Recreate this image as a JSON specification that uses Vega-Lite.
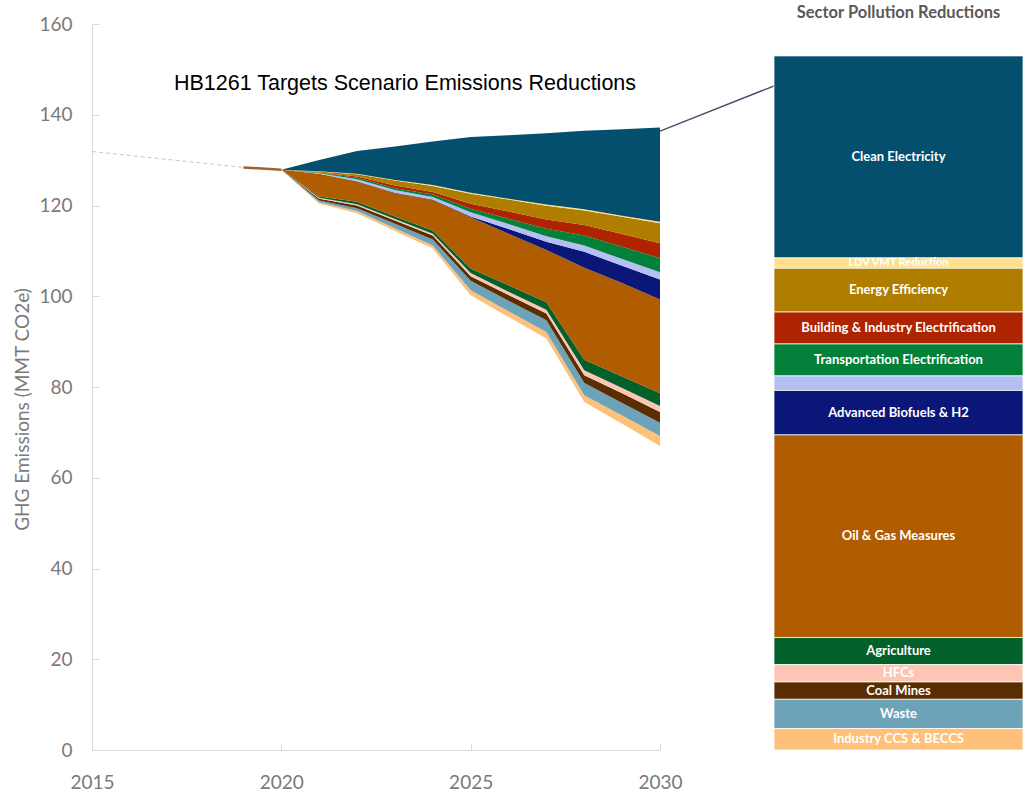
{
  "$schema": "https://vega.github.io/schema/vega-lite/v6.json",
  "background": "white",
  "padding": {"left": 13, "top": 4, "right": 5, "bottom": 5},
  "config": {"view": {"stroke": null}, "font": "Lato"},
  "spacing": 114,
  "bounds": "flush",
  "datasets": {
    "sectors": [
      {"sector": "Clean Electricity", "rank": 13, "share": 29.1},
      {"sector": "LDV VMT Reduction", "rank": 12, "share": 1.5},
      {"sector": "Energy Efficiency", "rank": 11, "share": 6.3},
      {"sector": "Building & Industry Electrification", "rank": 10, "share": 4.6},
      {"sector": "Transportation Electrification", "rank": 9, "share": 4.6},
      {"sector": "Other Measures", "rank": 8, "share": 2.1},
      {"sector": "Advanced Biofuels & H2", "rank": 7, "share": 6.4},
      {"sector": "Oil & Gas Measures", "rank": 6, "share": 29.2},
      {"sector": "Agriculture", "rank": 5, "share": 3.9},
      {"sector": "HFCs", "rank": 4, "share": 2.5},
      {"sector": "Coal Mines", "rank": 3, "share": 2.5},
      {"sector": "Waste", "rank": 2, "share": 4.2},
      {"sector": "Industry CCS & BECCS", "rank": 1, "share": 3.1}
    ],
    "trend": [
      {"year": 2015, "value": 131.9},
      {"year": 2019, "value": 128.4}
    ],
    "bridge": [
      {"year": 2019, "value": 128.4},
      {"year": 2020, "value": 127.9}
    ],
    "connector": [
      {"year": 2030, "value": 136.4, "year_end": 2033.45, "value_end": 147.8}
    ],
    "emissions": [
      {"year": 2020, "sector": "Remaining Emissions", "value": 127.9},
      {"year": 2020, "sector": "Industry CCS & BECCS", "value": 0},
      {"year": 2020, "sector": "Waste", "value": 0},
      {"year": 2020, "sector": "Coal Mines", "value": 0},
      {"year": 2020, "sector": "HFCs", "value": 0},
      {"year": 2020, "sector": "Agriculture", "value": 0},
      {"year": 2020, "sector": "Oil & Gas Measures", "value": 0},
      {"year": 2020, "sector": "Advanced Biofuels & H2", "value": 0},
      {"year": 2020, "sector": "Other Measures", "value": 0},
      {"year": 2020, "sector": "Transportation Electrification", "value": 0},
      {"year": 2020, "sector": "Building & Industry Electrification", "value": 0},
      {"year": 2020, "sector": "Energy Efficiency", "value": 0},
      {"year": 2020, "sector": "LDV VMT Reduction", "value": 0},
      {"year": 2020, "sector": "Clean Electricity", "value": 0},

      {"year": 2021, "sector": "Remaining Emissions", "value": 120.4},
      {"year": 2021, "sector": "Industry CCS & BECCS", "value": 0.3},
      {"year": 2021, "sector": "Waste", "value": 0.4},
      {"year": 2021, "sector": "Coal Mines", "value": 0.4},
      {"year": 2021, "sector": "HFCs", "value": 0.2},
      {"year": 2021, "sector": "Agriculture", "value": 0.3},
      {"year": 2021, "sector": "Oil & Gas Measures", "value": 5.0},
      {"year": 2021, "sector": "Advanced Biofuels & H2", "value": 0},
      {"year": 2021, "sector": "Other Measures", "value": 0.1},
      {"year": 2021, "sector": "Transportation Electrification", "value": 0.1},
      {"year": 2021, "sector": "Building & Industry Electrification", "value": 0.1},
      {"year": 2021, "sector": "Energy Efficiency", "value": 0.2},
      {"year": 2021, "sector": "LDV VMT Reduction", "value": 0.05},
      {"year": 2021, "sector": "Clean Electricity", "value": 2.5},

      {"year": 2022, "sector": "Remaining Emissions", "value": 118.3},
      {"year": 2022, "sector": "Industry CCS & BECCS", "value": 0.5},
      {"year": 2022, "sector": "Waste", "value": 0.6},
      {"year": 2022, "sector": "Coal Mines", "value": 0.6},
      {"year": 2022, "sector": "HFCs", "value": 0.3},
      {"year": 2022, "sector": "Agriculture", "value": 0.5},
      {"year": 2022, "sector": "Oil & Gas Measures", "value": 4.5},
      {"year": 2022, "sector": "Advanced Biofuels & H2", "value": 0.05},
      {"year": 2022, "sector": "Other Measures", "value": 0.45},
      {"year": 2022, "sector": "Transportation Electrification", "value": 0.3},
      {"year": 2022, "sector": "Building & Industry Electrification", "value": 0.3},
      {"year": 2022, "sector": "Energy Efficiency", "value": 0.5},
      {"year": 2022, "sector": "LDV VMT Reduction", "value": 0.1},
      {"year": 2022, "sector": "Clean Electricity", "value": 5.0},

      {"year": 2023, "sector": "Remaining Emissions", "value": 114.4},
      {"year": 2023, "sector": "Industry CCS & BECCS", "value": 0.6},
      {"year": 2023, "sector": "Waste", "value": 1.0},
      {"year": 2023, "sector": "Coal Mines", "value": 0.7},
      {"year": 2023, "sector": "HFCs", "value": 0.3},
      {"year": 2023, "sector": "Agriculture", "value": 0.6},
      {"year": 2023, "sector": "Oil & Gas Measures", "value": 5.1},
      {"year": 2023, "sector": "Advanced Biofuels & H2", "value": 0.1},
      {"year": 2023, "sector": "Other Measures", "value": 0.6},
      {"year": 2023, "sector": "Transportation Electrification", "value": 0.4},
      {"year": 2023, "sector": "Building & Industry Electrification", "value": 0.6},
      {"year": 2023, "sector": "Energy Efficiency", "value": 1.1},
      {"year": 2023, "sector": "LDV VMT Reduction", "value": 0.1},
      {"year": 2023, "sector": "Clean Electricity", "value": 7.4},

      {"year": 2024, "sector": "Remaining Emissions", "value": 110.5},
      {"year": 2024, "sector": "Industry CCS & BECCS", "value": 0.7},
      {"year": 2024, "sector": "Waste", "value": 1.3},
      {"year": 2024, "sector": "Coal Mines", "value": 0.9},
      {"year": 2024, "sector": "HFCs", "value": 0.4},
      {"year": 2024, "sector": "Agriculture", "value": 0.7},
      {"year": 2024, "sector": "Oil & Gas Measures", "value": 6.7},
      {"year": 2024, "sector": "Advanced Biofuels & H2", "value": 0.1},
      {"year": 2024, "sector": "Other Measures", "value": 0.6},
      {"year": 2024, "sector": "Transportation Electrification", "value": 0.5},
      {"year": 2024, "sector": "Building & Industry Electrification", "value": 0.6},
      {"year": 2024, "sector": "Energy Efficiency", "value": 1.3},
      {"year": 2024, "sector": "LDV VMT Reduction", "value": 0.2},
      {"year": 2024, "sector": "Clean Electricity", "value": 9.6},

      {"year": 2025, "sector": "Remaining Emissions", "value": 100.2},
      {"year": 2025, "sector": "Industry CCS & BECCS", "value": 1.1},
      {"year": 2025, "sector": "Waste", "value": 2.1},
      {"year": 2025, "sector": "Coal Mines", "value": 1.0},
      {"year": 2025, "sector": "HFCs", "value": 0.7},
      {"year": 2025, "sector": "Agriculture", "value": 1.0},
      {"year": 2025, "sector": "Oil & Gas Measures", "value": 11.3},
      {"year": 2025, "sector": "Advanced Biofuels & H2", "value": 0.2},
      {"year": 2025, "sector": "Other Measures", "value": 0.9},
      {"year": 2025, "sector": "Transportation Electrification", "value": 0.8},
      {"year": 2025, "sector": "Building & Industry Electrification", "value": 1.1},
      {"year": 2025, "sector": "Energy Efficiency", "value": 2.2},
      {"year": 2025, "sector": "LDV VMT Reduction", "value": 0.2},
      {"year": 2025, "sector": "Clean Electricity", "value": 12.3},

      {"year": 2026, "sector": "Remaining Emissions", "value": 95.4},
      {"year": 2026, "sector": "Industry CCS & BECCS", "value": 1.3},
      {"year": 2026, "sector": "Waste", "value": 2.3},
      {"year": 2026, "sector": "Coal Mines", "value": 1.3},
      {"year": 2026, "sector": "HFCs", "value": 0.7},
      {"year": 2026, "sector": "Agriculture", "value": 1.4},
      {"year": 2026, "sector": "Oil & Gas Measures", "value": 11.4},
      {"year": 2026, "sector": "Advanced Biofuels & H2", "value": 1.0},
      {"year": 2026, "sector": "Other Measures", "value": 1.1},
      {"year": 2026, "sector": "Transportation Electrification", "value": 1.2},
      {"year": 2026, "sector": "Building & Industry Electrification", "value": 1.6},
      {"year": 2026, "sector": "Energy Efficiency", "value": 2.6},
      {"year": 2026, "sector": "LDV VMT Reduction", "value": 0.2},
      {"year": 2026, "sector": "Clean Electricity", "value": 14.0},

      {"year": 2027, "sector": "Remaining Emissions", "value": 90.7},
      {"year": 2027, "sector": "Industry CCS & BECCS", "value": 1.4},
      {"year": 2027, "sector": "Waste", "value": 2.6},
      {"year": 2027, "sector": "Coal Mines", "value": 1.5},
      {"year": 2027, "sector": "HFCs", "value": 0.8},
      {"year": 2027, "sector": "Agriculture", "value": 1.7},
      {"year": 2027, "sector": "Oil & Gas Measures", "value": 11.5},
      {"year": 2027, "sector": "Advanced Biofuels & H2", "value": 1.8},
      {"year": 2027, "sector": "Other Measures", "value": 1.2},
      {"year": 2027, "sector": "Transportation Electrification", "value": 1.7},
      {"year": 2027, "sector": "Building & Industry Electrification", "value": 2.0},
      {"year": 2027, "sector": "Energy Efficiency", "value": 3.05},
      {"year": 2027, "sector": "LDV VMT Reduction", "value": 0.25},
      {"year": 2027, "sector": "Clean Electricity", "value": 15.7},

      {"year": 2028, "sector": "Remaining Emissions", "value": 76.7},
      {"year": 2028, "sector": "Industry CCS & BECCS", "value": 1.5},
      {"year": 2028, "sector": "Waste", "value": 2.7},
      {"year": 2028, "sector": "Coal Mines", "value": 1.7},
      {"year": 2028, "sector": "HFCs", "value": 1.1},
      {"year": 2028, "sector": "Agriculture", "value": 2.3},
      {"year": 2028, "sector": "Oil & Gas Measures", "value": 20.3},
      {"year": 2028, "sector": "Advanced Biofuels & H2", "value": 3.5},
      {"year": 2028, "sector": "Other Measures", "value": 1.4},
      {"year": 2028, "sector": "Transportation Electrification", "value": 2.2},
      {"year": 2028, "sector": "Building & Industry Electrification", "value": 2.3},
      {"year": 2028, "sector": "Energy Efficiency", "value": 3.2},
      {"year": 2028, "sector": "LDV VMT Reduction", "value": 0.25},
      {"year": 2028, "sector": "Clean Electricity", "value": 17.3},

      {"year": 2029, "sector": "Remaining Emissions", "value": 71.9},
      {"year": 2029, "sector": "Industry CCS & BECCS", "value": 1.8},
      {"year": 2029, "sector": "Waste", "value": 2.8},
      {"year": 2029, "sector": "Coal Mines", "value": 2.1},
      {"year": 2029, "sector": "HFCs", "value": 1.2},
      {"year": 2029, "sector": "Agriculture", "value": 2.5},
      {"year": 2029, "sector": "Oil & Gas Measures", "value": 20.6},
      {"year": 2029, "sector": "Advanced Biofuels & H2", "value": 3.8},
      {"year": 2029, "sector": "Other Measures", "value": 1.5},
      {"year": 2029, "sector": "Transportation Electrification", "value": 2.7},
      {"year": 2029, "sector": "Building & Industry Electrification", "value": 2.8},
      {"year": 2029, "sector": "Energy Efficiency", "value": 3.8},
      {"year": 2029, "sector": "LDV VMT Reduction", "value": 0.25},
      {"year": 2029, "sector": "Clean Electricity", "value": 19.05},

      {"year": 2030, "sector": "Remaining Emissions", "value": 67.0},
      {"year": 2030, "sector": "Industry CCS & BECCS", "value": 2.2},
      {"year": 2030, "sector": "Waste", "value": 2.9},
      {"year": 2030, "sector": "Coal Mines", "value": 2.4},
      {"year": 2030, "sector": "HFCs", "value": 1.3},
      {"year": 2030, "sector": "Agriculture", "value": 2.8},
      {"year": 2030, "sector": "Oil & Gas Measures", "value": 20.7},
      {"year": 2030, "sector": "Advanced Biofuels & H2", "value": 4.4},
      {"year": 2030, "sector": "Other Measures", "value": 1.6},
      {"year": 2030, "sector": "Transportation Electrification", "value": 3.1},
      {"year": 2030, "sector": "Building & Industry Electrification", "value": 3.3},
      {"year": 2030, "sector": "Energy Efficiency", "value": 4.4},
      {"year": 2030, "sector": "LDV VMT Reduction", "value": 0.3},
      {"year": 2030, "sector": "Clean Electricity", "value": 20.8}
    ]
  },
  "hconcat": [
    {
      "width": 568,
      "height": 726,
      "title": {"text": "HB1261 Targets Scenario Emissions Reductions", "font": "Liberation Sans", "fontSize": 21.5, "fontWeight": "normal", "color": "#000000", "anchor": "middle", "dx": 29, "offset": -79.5},
      "layer": [
        {
          "data": {"name": "emissions"},
          "transform": [
            {"lookup": "sector", "from": {"data": {"name": "sectors"}, "key": "sector", "fields": ["rank"]}, "default": 0}
          ],
          "mark": {"type": "area", "opacity": 1, "interpolate": "linear"},
          "encoding": {
            "x": {"field": "year", "type": "quantitative",
              "scale": {"domain": [2015, 2030], "nice": false, "zero": false},
              "axis": {"title": null, "values": [2015, 2020, 2025, 2030], "format": "d", "grid": false, "domainColor": "#d9d9d9", "tickColor": "#d9d9d9", "tickSize": -7, "labelPadding": 30, "labelFlush": false, "labelFont": "Lato", "labelFontSize": 19, "labelColor": "#7a7a7a"}},
            "y": {"field": "value", "type": "quantitative", "stack": "zero",
              "scale": {"domain": [0, 160], "nice": false},
              "axis": {"title": "GHG Emissions (MMT CO2e)", "values": [0, 20, 40, 60, 80, 100, 120, 140, 160], "grid": false, "domainColor": "#d9d9d9", "tickColor": "#d9d9d9", "tickSize": -7, "labelPadding": 27, "labelFlush": false, "labelFont": "Lato", "labelFontSize": 19, "labelColor": "#7a7a7a", "titleFont": "Lato", "titleFontSize": 19, "titleFontWeight": "normal", "titleColor": "#7a7a7a", "titlePadding": 6, "titleY": 385}},
            "color": {"field": "sector", "type": "nominal", "legend": null,
              "scale": {
                "domain": ["Remaining Emissions", "Industry CCS & BECCS", "Waste", "Coal Mines", "HFCs", "Agriculture", "Oil & Gas Measures", "Advanced Biofuels & H2", "Other Measures", "Transportation Electrification", "Building & Industry Electrification", "Energy Efficiency", "LDV VMT Reduction", "Clean Electricity"],
                "range": ["transparent", "#FFC07A", "#6DA3B8", "#5A2E02", "#FDC6B4", "#03602B", "#B05C00", "#0B1679", "#B4C0F3", "#03803A", "#AE2300", "#AF7E00", "#FFE08C", "#054F6E"]}},
            "order": {"field": "rank", "type": "quantitative"}
          }
        },
        {
          "data": {"name": "trend"},
          "mark": {"type": "line", "color": "#d9c3b3", "strokeWidth": 1, "strokeDash": [4, 3]},
          "encoding": {
            "x": {"field": "year", "type": "quantitative"},
            "y": {"field": "value", "type": "quantitative"}
          }
        },
        {
          "data": {"name": "bridge"},
          "mark": {"type": "line", "color": "#9a6538", "strokeWidth": 2.5},
          "encoding": {
            "x": {"field": "year", "type": "quantitative"},
            "y": {"field": "value", "type": "quantitative"}
          }
        },
        {
          "data": {"name": "connector"},
          "mark": {"type": "rule", "color": "#44546A", "strokeWidth": 1.5, "clip": false},
          "encoding": {
            "x": {"field": "year", "type": "quantitative"},
            "y": {"field": "value", "type": "quantitative"},
            "x2": {"field": "year_end"},
            "y2": {"field": "value_end"}
          }
        }
      ]
    },
    {
      "width": 249,
      "height": 726,
      "title": {"text": "Sector Pollution Reductions", "font": "Lato", "fontSize": 16.5, "fontWeight": "bold", "color": "#595959", "anchor": "middle", "offset": 3},
      "data": {"name": "sectors"},
      "encoding": {
        "x": {"datum": "Sector Pollution Reductions", "type": "nominal", "axis": null, "scale": {"paddingInner": 0, "paddingOuter": 0}},
        "order": {"field": "rank", "type": "quantitative"}
      },
      "layer": [
        {
          "mark": {"type": "bar", "stroke": "#ffffff", "strokeWidth": 0.75},
          "encoding": {
            "y": {"field": "share", "type": "quantitative", "stack": "zero", "axis": null, "scale": {"domain": [0, 104.6], "nice": false}},
            "color": {"field": "sector", "type": "nominal", "legend": null,
              "scale": {
                "domain": ["Remaining Emissions", "Industry CCS & BECCS", "Waste", "Coal Mines", "HFCs", "Agriculture", "Oil & Gas Measures", "Advanced Biofuels & H2", "Other Measures", "Transportation Electrification", "Building & Industry Electrification", "Energy Efficiency", "LDV VMT Reduction", "Clean Electricity"],
                "range": ["transparent", "#FFC07A", "#6DA3B8", "#5A2E02", "#FDC6B4", "#03602B", "#B05C00", "#0B1679", "#B4C0F3", "#03803A", "#AE2300", "#AF7E00", "#FFE08C", "#054F6E"]}}
          }
        },
        {
          "mark": {"type": "text", "color": "#ffffff", "font": "Lato", "fontWeight": "bold", "align": "center", "baseline": "middle"},
          "encoding": {
            "y": {"field": "share", "type": "quantitative", "stack": "zero", "bandPosition": 0.5, "axis": null, "scale": {"domain": [0, 104.6], "nice": false}},
            "detail": {"field": "sector", "type": "nominal"},
            "text": {"condition": {"test": "datum.sector === 'Other Measures'", "value": ""}, "field": "sector", "type": "nominal"},
            "size": {"condition": {"test": "datum.sector === 'LDV VMT Reduction'", "value": 11}, "value": 13}
          }
        }
      ]
    }
  ]
}
